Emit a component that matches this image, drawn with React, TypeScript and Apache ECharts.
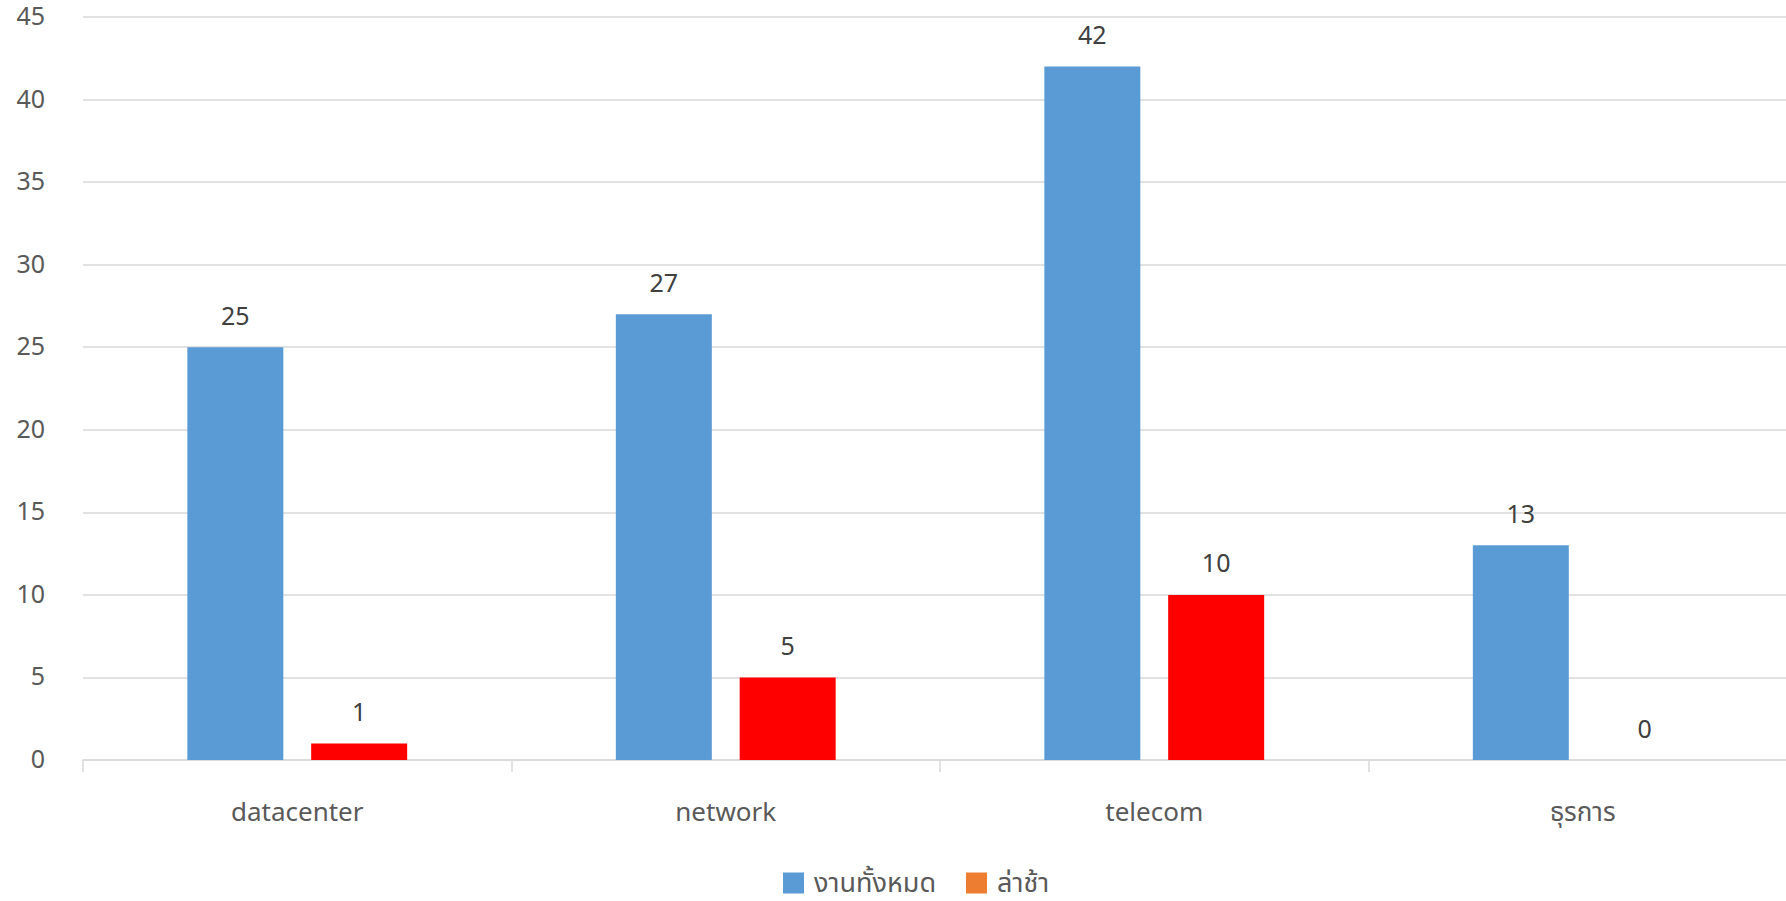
import React, { useEffect, useRef } from "react";
import * as echarts from "echarts";

const categories = ["datacenter", "network", "telecom", "ธุรการ"];
const totalJobs = [25, 27, 42, 13];
const lateJobs = [1, 5, 10, 0];
const seriesNames = ["งานทั้งหมด", "ล่าช้า"];

const FONT = "'Noto Sans Thai', 'Leelawadee UI', 'Noto Sans', 'DejaVu Sans', sans-serif";

export default function App() {
  const ref = useRef<HTMLDivElement>(null);
  useEffect(() => {
    if (!ref.current) return;
    const chart = echarts.init(ref.current, null, { renderer: "svg" });
    chart.setOption({
      animation: false,
      backgroundColor: "#ffffff",
      textStyle: { fontFamily: FONT },
      grid: { left: 83, right: 0, top: 17, bottom: 141, containLabel: false },
      legend: {
        left: 778,
        top: 864,
        itemWidth: 21,
        itemHeight: 21,
        itemGap: 30,
        icon: "rect",
        textStyle: { fontSize: 27, lineHeight: 28, color: "#595959", fontFamily: FONT, padding: [0, 0, 0, 5] },
        data: seriesNames,
      },
      xAxis: {
        type: "category",
        data: categories,
        axisLine: { lineStyle: { color: "#d9d9d9", width: 1.5 } },
        axisTick: { show: true, length: 12, lineStyle: { color: "#d9d9d9", width: 1.5 } },
        axisLabel: { fontSize: 26, lineHeight: 30, color: "#595959", margin: 38, fontFamily: FONT },
      },
      yAxis: {
        type: "value",
        min: 0,
        max: 45,
        interval: 5,
        axisLine: { show: false },
        axisTick: { show: false },
        splitLine: { lineStyle: { color: "#d9d9d9", width: 1.5 } },
        axisLabel: { fontSize: 25, lineHeight: 26, color: "#595959", margin: 38, fontFamily: FONT },
      },
      series: [
        {
          name: seriesNames[0],
          type: "bar",
          data: totalJobs,
          barWidth: 96,
          barGap: "29%",
          itemStyle: { color: "#5B9BD5" },
          label: { show: true, position: "top", distance: 18, fontSize: 25, color: "#404040", fontFamily: FONT },
        },
        {
          name: seriesNames[1],
          type: "bar",
          barWidth: 96,
          data: lateJobs.map((v) => ({ value: v, itemStyle: { color: "#FF0000" } })),
          itemStyle: { color: "#ED7D31" },
          label: { show: true, position: "top", distance: 18, fontSize: 25, color: "#404040", fontFamily: FONT },
        },
      ],
    });
    return () => chart.dispose();
  }, []);
  return (
    <div style={{ position: "fixed", left: 0, top: 0, width: 1786, height: 901, overflow: "hidden" }}>
      <div ref={ref} style={{ width: 1797, height: 901 }} />
    </div>
  );
}
